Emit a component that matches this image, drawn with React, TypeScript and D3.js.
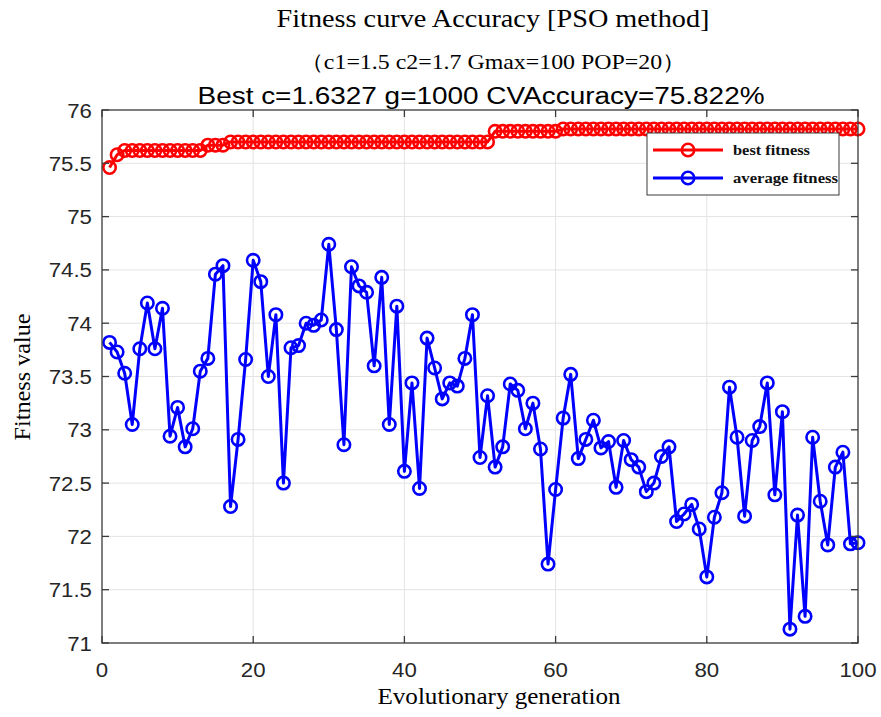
import React, { useEffect, useRef } from 'react';
import * as d3 from 'd3';

// best fitness per generation (1..100)
const bestFitness: number[] = [
  75.46, 75.58,
  75.62, 75.62, 75.62, 75.62, 75.62, 75.62, 75.62, 75.62, 75.62, 75.62, 75.62,
  75.67, 75.67, 75.67,
  75.70, 75.70, 75.70, 75.70, 75.70, 75.70, 75.70, 75.70, 75.70, 75.70,
  75.70, 75.70, 75.70, 75.70, 75.70, 75.70, 75.70, 75.70, 75.70, 75.70,
  75.70, 75.70, 75.70, 75.70, 75.70, 75.70, 75.70, 75.70, 75.70, 75.70,
  75.70, 75.70, 75.70, 75.70, 75.70,
  75.80, 75.80, 75.80, 75.80, 75.80, 75.80, 75.80, 75.80, 75.80,
  75.822, 75.822, 75.822, 75.822, 75.822, 75.822, 75.822, 75.822, 75.822, 75.822,
  75.822, 75.822, 75.822, 75.822, 75.822, 75.822, 75.822, 75.822, 75.822, 75.822,
  75.822, 75.822, 75.822, 75.822, 75.822, 75.822, 75.822, 75.822, 75.822, 75.822,
  75.822, 75.822, 75.822, 75.822, 75.822, 75.822, 75.822, 75.822, 75.822, 75.822,
];

// average fitness per generation (1..100)
const avgFitness: number[] = [
  73.82, 73.73, 73.53, 73.05, 73.76, 74.19, 73.76, 74.14, 72.94, 73.21,
  72.84, 73.01, 73.55, 73.67, 74.46, 74.54, 72.28, 72.91, 73.66, 74.59,
  74.39, 73.50, 74.08, 72.50, 73.77, 73.79, 74.00, 73.98, 74.03, 74.74,
  73.94, 72.86, 74.53, 74.35, 74.29, 73.60, 74.43, 73.05, 74.16, 72.61,
  73.44, 72.45, 73.86, 73.58, 73.29, 73.44, 73.41, 73.67, 74.08, 72.74,
  73.32, 72.65, 72.84, 73.43, 73.37, 73.01, 73.25, 72.82, 71.74, 72.44,
  73.11, 73.52, 72.73, 72.91, 73.09, 72.83, 72.89, 72.46, 72.90, 72.72,
  72.65, 72.42, 72.50, 72.75, 72.84, 72.14, 72.21, 72.30, 72.07, 71.62,
  72.18, 72.41, 73.40, 72.93, 72.19, 72.90, 73.03, 73.44, 72.39, 73.17,
  71.13, 72.20, 71.25, 72.93, 72.33, 71.92, 72.65, 72.79, 71.93, 71.94,
];

const xTicks = [0, 20, 40, 60, 80, 100];
const yTicks = [71, 71.5, 72, 72.5, 73, 73.5, 74, 74.5, 75, 75.5, 76];

const legendItems = [
  { label: 'best fitness', color: '#ff0000' },
  { label: 'average fitness', color: '#0000ff' },
];

const SERIF = '"Liberation Serif", "Times New Roman", serif';
const SANS = '"Liberation Sans", Arial, sans-serif';

const App = () => {
  const svgRef = useRef<SVGSVGElement>(null);
  const width = 881;
  const height = 717;

  useEffect(() => {
    const svg = d3.select(svgRef.current);
    svg.selectAll('*').remove();

    const left = 102, right = 858, top = 110, bottom = 643;
    const x = d3.scaleLinear().domain([0, 100]).range([left, right]);
    const y = d3.scaleLinear().domain([71, 76]).range([bottom, top]);

    svg.append('rect').attr('width', width).attr('height', height).attr('fill', '#fff');

    // grid
    const grid = svg.append('g').attr('stroke', '#e3e3e3').attr('stroke-width', 1);
    xTicks.slice(1, -1).forEach(t => {
      grid.append('line').attr('x1', x(t)).attr('x2', x(t)).attr('y1', top).attr('y2', bottom);
    });
    yTicks.slice(1, -1).forEach(t => {
      grid.append('line').attr('x1', left).attr('x2', right).attr('y1', y(t)).attr('y2', y(t));
    });

    // series
    const line = d3.line<number>().x((d, i) => x(i + 1)).y(d => y(d));
    const series = [
      { values: bestFitness, color: '#ff0000' },
      { values: avgFitness, color: '#0000ff' },
    ];
    series.forEach(s => {
      svg.append('path')
        .attr('d', line(s.values))
        .attr('fill', 'none')
        .attr('stroke', s.color)
        .attr('stroke-width', 3)
        .attr('stroke-linejoin', 'round');
      svg.append('g').selectAll('circle')
        .data(s.values)
        .enter().append('circle')
        .attr('cx', (d, i) => x(i + 1))
        .attr('cy', d => y(d))
        .attr('r', 6.2)
        .attr('fill', 'none')
        .attr('stroke', s.color)
        .attr('stroke-width', 2.6);
    });

    // frame + ticks
    const ax = svg.append('g').attr('stroke', '#3a3a3a').attr('stroke-width', 1.3).attr('fill', 'none');
    ax.append('rect').attr('x', left).attr('y', top).attr('width', right - left).attr('height', bottom - top);
    const tl = 7;
    xTicks.forEach(t => {
      ax.append('line').attr('x1', x(t)).attr('x2', x(t)).attr('y1', bottom).attr('y2', bottom - tl);
      ax.append('line').attr('x1', x(t)).attr('x2', x(t)).attr('y1', top).attr('y2', top + tl);
    });
    yTicks.forEach(t => {
      ax.append('line').attr('x1', left).attr('x2', left + tl).attr('y1', y(t)).attr('y2', y(t));
      ax.append('line').attr('x1', right).attr('x2', right - tl).attr('y1', y(t)).attr('y2', y(t));
    });

    // tick labels (source is slightly stretched horizontally)
    const sx = 1.06;
    yTicks.forEach(t => {
      svg.append('text')
        .attr('transform', `translate(${left - 10},${y(t) + 7.5}) scale(${sx},1)`)
        .attr('text-anchor', 'end')
        .attr('font-family', SANS)
        .attr('font-size', 21)
        .attr('fill', '#262626')
        .text(String(t));
    });
    xTicks.forEach(t => {
      svg.append('text')
        .attr('transform', `translate(${x(t)},${bottom + 34}) scale(${sx},1)`)
        .attr('text-anchor', 'middle')
        .attr('font-family', SANS)
        .attr('font-size', 21)
        .attr('fill', '#262626')
        .text(String(t));
    });

    // axis labels
    svg.append('text')
      .attr('x', 499).attr('y', 704)
      .attr('text-anchor', 'middle')
      .attr('font-family', SERIF).attr('font-size', 24)
      .attr('textLength', 243).attr('lengthAdjust', 'spacingAndGlyphs')
      .text('Evolutionary generation');
    svg.append('text')
      .attr('transform', `translate(30,377) rotate(-90)`)
      .attr('text-anchor', 'middle')
      .attr('font-family', SERIF).attr('font-size', 23)
      .attr('textLength', 127).attr('lengthAdjust', 'spacingAndGlyphs')
      .text('Fitness value');

    // titles
    svg.append('text')
      .attr('x', 493).attr('y', 27)
      .attr('text-anchor', 'middle')
      .attr('font-family', SERIF).attr('font-size', 26)
      .attr('textLength', 433).attr('lengthAdjust', 'spacingAndGlyphs')
      .text('Fitness curve Accuracy [PSO method]');
    svg.append('text')
      .attr('x', 493).attr('y', 69)
      .attr('text-anchor', 'middle')
      .attr('font-family', SERIF).attr('font-size', 21)
      .attr('textLength', 386).attr('lengthAdjust', 'spacingAndGlyphs')
      .text('（c1=1.5 c2=1.7 Gmax=100 POP=20）');
    svg.append('text')
      .attr('x', 481).attr('y', 104)
      .attr('text-anchor', 'middle')
      .attr('font-family', SANS).attr('font-size', 23)
      .attr('textLength', 567).attr('lengthAdjust', 'spacingAndGlyphs')
      .text('Best c=1.6327 g=1000 CVAccuracy=75.822%');

    // legend
    const lg = svg.append('g');
    lg.append('rect')
      .attr('x', 647).attr('y', 133).attr('width', 192).attr('height', 62)
      .attr('fill', '#fff').attr('stroke', '#3a3a3a').attr('stroke-width', 1);
    const widths = [77, 105];
    legendItems.forEach((it, i) => {
      const ly = 150 + i * 28;
      lg.append('line').attr('x1', 653).attr('x2', 723).attr('y1', ly).attr('y2', ly)
        .attr('stroke', it.color).attr('stroke-width', 3);
      lg.append('circle').attr('cx', 688).attr('cy', ly).attr('r', 6.2)
        .attr('fill', 'none').attr('stroke', it.color).attr('stroke-width', 2.6);
      lg.append('text')
        .attr('x', 733).attr('y', ly + 5)
        .attr('font-family', SERIF).attr('font-size', 15).attr('font-weight', 'bold')
        .attr('textLength', widths[i]).attr('lengthAdjust', 'spacingAndGlyphs')
        .attr('fill', '#111')
        .text(it.label);
    });
  }, []);

  return (
    <svg ref={svgRef} width={width} height={height}
      style={{ position: 'absolute', left: 0, top: 0, display: 'block' }} />
  );
};

export default App;
